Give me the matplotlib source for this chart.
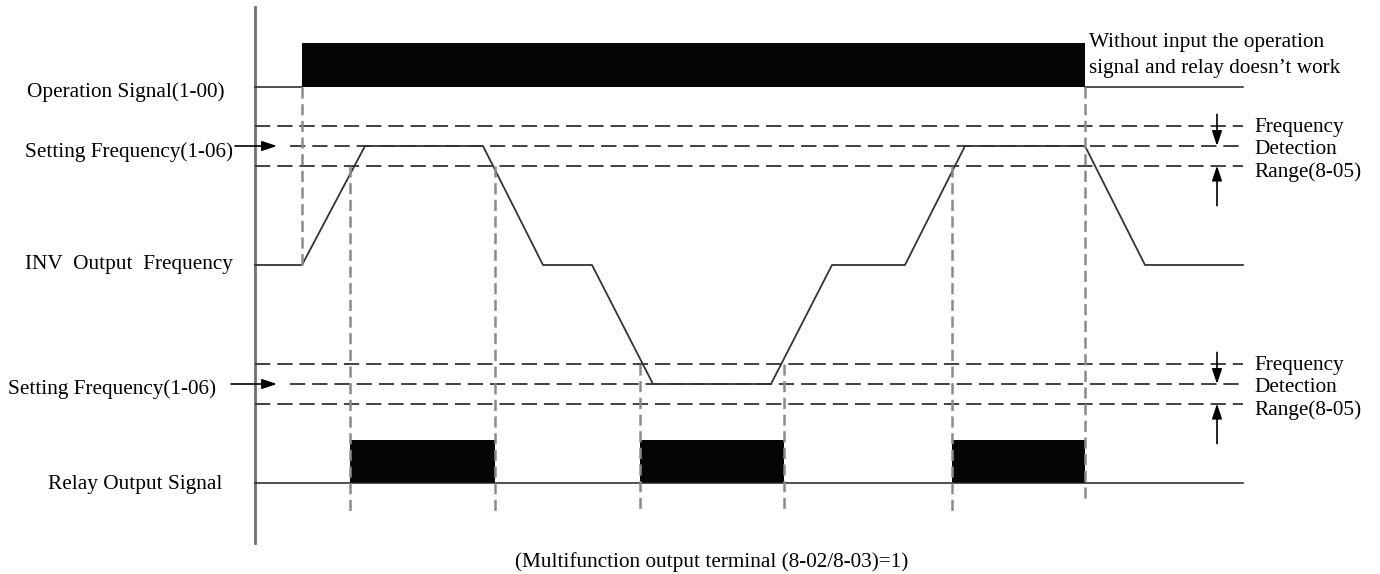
import numpy as np
import matplotlib
matplotlib.use("Agg")
import matplotlib.pyplot as plt
from matplotlib.patches import Rectangle

plt.rcParams['font.family'] = ['Liberation Serif', 'DejaVu Serif']
plt.rcParams['lines.scale_dashes'] = False

# ---- data (time axis in drawing units, levels relative to each trace baseline) ----
t_start, t_end = 255, 1243
run_on, run_off = 302, 1085

# INV output frequency trace: (time, frequency as fraction of setting)
inv_t = [255, 302, 365, 483, 543, 592, 653, 771, 832, 905, 965, 1085, 1145, 1243]
inv_f = [0, 0, 1, 1, 0, 0, -1, -1, 0, 0, 1, 1, 0, 0]
band = 0.165  # detection range as fraction of setting frequency

# relay ON intervals (when output freq inside detection band)
relay_on = [(350, 495), (640, 784), (952, 1085)]
# vertical markers: (time, y top, y bottom)
markers = [(302, 87, 265), (350, 166, 513), (495, 166, 513), (640, 364, 513),
           (784, 364, 513), (952, 166, 513), (1085, 87, 500)]

# trace baselines
y_op, y_inv, y_relay = 87, 265, 483
op_h, relay_h = 44, 43
f_scale = 119  # pixels per setting frequency

fig = plt.figure(figsize=(13.8, 5.74), dpi=100)
ax = fig.add_axes([0, 0, 1, 1])
ax.set_xlim(0, 1380)
ax.set_ylim(574, 0)
ax.axis('off')

line_kw = dict(color='#222222', lw=1.1)
fsz = 15.3
dy = 3  # text nudge

# time axis (vertical)
ax.plot([t_start, t_start], [7, 543], color='#707070', lw=2.0)

# operation signal
ax.plot([t_start, run_on], [y_op, y_op], **line_kw)
ax.plot([run_off, t_end], [y_op, y_op], **line_kw)
ax.add_patch(Rectangle((run_on, y_op - op_h), run_off - run_on, op_h, color='#050505', lw=0))

# frequency detection bands
for sign in (1, -1):
    yc = y_inv - sign * f_scale
    for off in (band, 0, -band):
        y = yc - off * f_scale
        x0 = 290 if off == 0 else t_start
        ax.plot([x0, t_end], [y, y], color='#333333', lw=1.3, linestyle=(0, (11, 5)))

# INV output frequency
inv_y = y_inv - np.array(inv_f) * f_scale
ax.plot(inv_t, inv_y, color='#333333', lw=1.3)

# relay output
ax.plot([t_start, t_end], [y_relay, y_relay], **line_kw)
for a, b in relay_on:
    ax.add_patch(Rectangle((a, y_relay - relay_h), b - a, relay_h, color='#050505', lw=0))

# vertical dashed markers
for x, y0, y1 in markers:
    ax.plot([x, x], [y0, y1], color='#8a8a8a', lw=1.8, linestyle=(0, (8, 4)))

# left labels
ax.text(27, 89 + dy, 'Operation Signal(1-00)', fontsize=fsz, va='center', ha='left')
ax.text(25, 149 + dy, 'Setting Frequency(1-06)', fontsize=fsz, va='center', ha='left')
ax.text(25, 261 + dy, 'INV  Output  Frequency', fontsize=fsz, va='center', ha='left')
ax.text(8, 386 + dy, 'Setting Frequency(1-06)', fontsize=fsz, va='center', ha='left')
ax.text(222, 481 + dy, 'Relay Output Signal', fontsize=fsz, va='center', ha='right')

arr = dict(arrowstyle='-|>,head_length=0.9,head_width=0.3', color='black', lw=1.2,
           shrinkA=0, shrinkB=0)
for y, x0 in ((146, 235), (384, 231)):
    ax.annotate('', xy=(277, y), xytext=(x0, y), arrowprops=arr)

# right side detection range markers
for sign in (1, -1):
    yc = y_inv - sign * f_scale
    top = yc - band * f_scale
    bot = yc + band * f_scale
    ax.annotate('', xy=(1217, yc), xytext=(1217, top - 12), arrowprops=arr)
    ax.annotate('', xy=(1217, bot), xytext=(1217, bot + 40), arrowprops=arr)
    ax.text(1254, top - 2 + dy, 'Frequency', fontsize=fsz, va='center', ha='left')
    ax.text(1254, yc + 1 + dy, 'Detection', fontsize=fsz, va='center', ha='left')
    ax.text(1254, bot + 3 + dy, 'Range(8-05)', fontsize=fsz, va='center', ha='left')

ax.text(1089, 39 + dy, 'Without input the operation', fontsize=fsz, va='center', ha='left')
ax.text(1089, 66 + dy, 'signal and relay doesn\u2019t work', fontsize=fsz, va='center', ha='left')

ax.text(712, 559 + dy, '(Multifunction output terminal (8-02/8-03)=1)', fontsize=fsz,
        va='center', ha='center')

fig.savefig('out.png', dpi=100)
